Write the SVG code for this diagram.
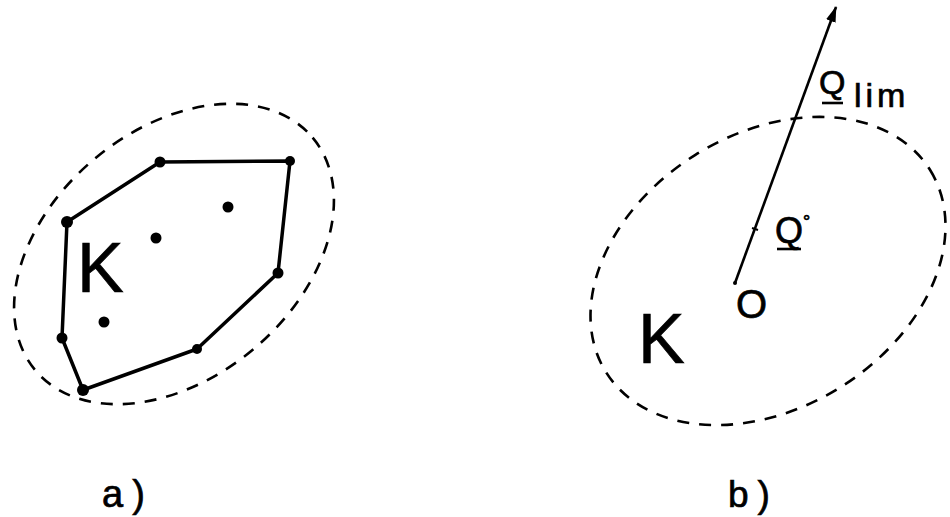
<svg xmlns="http://www.w3.org/2000/svg" width="950" height="517" viewBox="0 0 950 517">
<style>
.dash{fill:none;stroke:#000;stroke-width:2.6;stroke-dasharray:12 10}
.hull{fill:none;stroke:#000;stroke-width:3.5;stroke-linejoin:round}
.pt{fill:#000}
.t{font-family:"Liberation Sans",Arial,sans-serif;fill:#000;stroke:#000;stroke-width:0.7}
.ray{stroke:#000;stroke-width:2.6;fill:none}
.ul{stroke:#000;stroke-width:2.6}
</style>
<defs>
<marker id="ah" viewBox="0 0 16 10" refX="15" refY="5" markerWidth="16" markerHeight="10" markerUnits="userSpaceOnUse" orient="auto">
<path d="M0,0 L16,5 L0,10 Z" fill="#000"/>
</marker>
</defs>
<g id="figA">
<ellipse id="boundA" class="dash" cx="174" cy="254" rx="181" ry="124" transform="rotate(-40 174 254)"/>
<polygon id="hull" class="hull" points="160,162 290,161 278,273 197,349 83,390 62,338 67,222"/>
<g id="points">
<circle class="pt" cx="160" cy="162" r="5.5"/>
<circle class="pt" cx="290" cy="161" r="5"/>
<circle class="pt" cx="278" cy="273" r="5.5"/>
<circle class="pt" cx="197" cy="349" r="5"/>
<circle class="pt" cx="83" cy="390" r="6"/>
<circle class="pt" cx="62" cy="338" r="5.5"/>
<circle class="pt" cx="67" cy="222" r="6"/>
<circle class="pt" cx="228" cy="207" r="5.5"/>
<circle class="pt" cx="156" cy="238" r="5.5"/>
<circle class="pt" cx="104" cy="322" r="5.5"/>
</g>
<text class="t" x="77" y="292" font-size="70">K</text>
<text class="t" x="102" y="507" font-size="38">a<tspan dx="9">)</tspan></text>
</g>
<g id="figB">
<ellipse id="boundB" class="dash" cx="768" cy="271" rx="191" ry="137" transform="rotate(-32 768 271)"/>
<text class="t" x="638" y="363" font-size="70">K</text>
<text class="t" x="736" y="318" font-size="40">O</text>
<text class="t" x="775" y="243" font-size="36">Q</text>
<line class="ul" x1="777" y1="249" x2="801" y2="249"/>
<text class="t" x="803" y="228" font-size="18">°</text>
<text class="t" x="819" y="94" font-size="34">Q</text>
<line class="ul" x1="822" y1="103" x2="843" y2="103"/>
<text class="t" x="854" y="107" font-size="34" letter-spacing="4">lim</text>
<text class="t" x="728" y="507" font-size="37">b<tspan dx="9">)</tspan></text>
</g>
<g id="connectors">
<line class="ray" x1="735" y1="283" x2="836" y2="7" marker-end="url(#ah)"/>
<circle cx="735" cy="283" r="2" fill="#000"/>
<line x1="752" y1="228" x2="758" y2="230" stroke="#000" stroke-width="2"/>
</g>
</svg>
